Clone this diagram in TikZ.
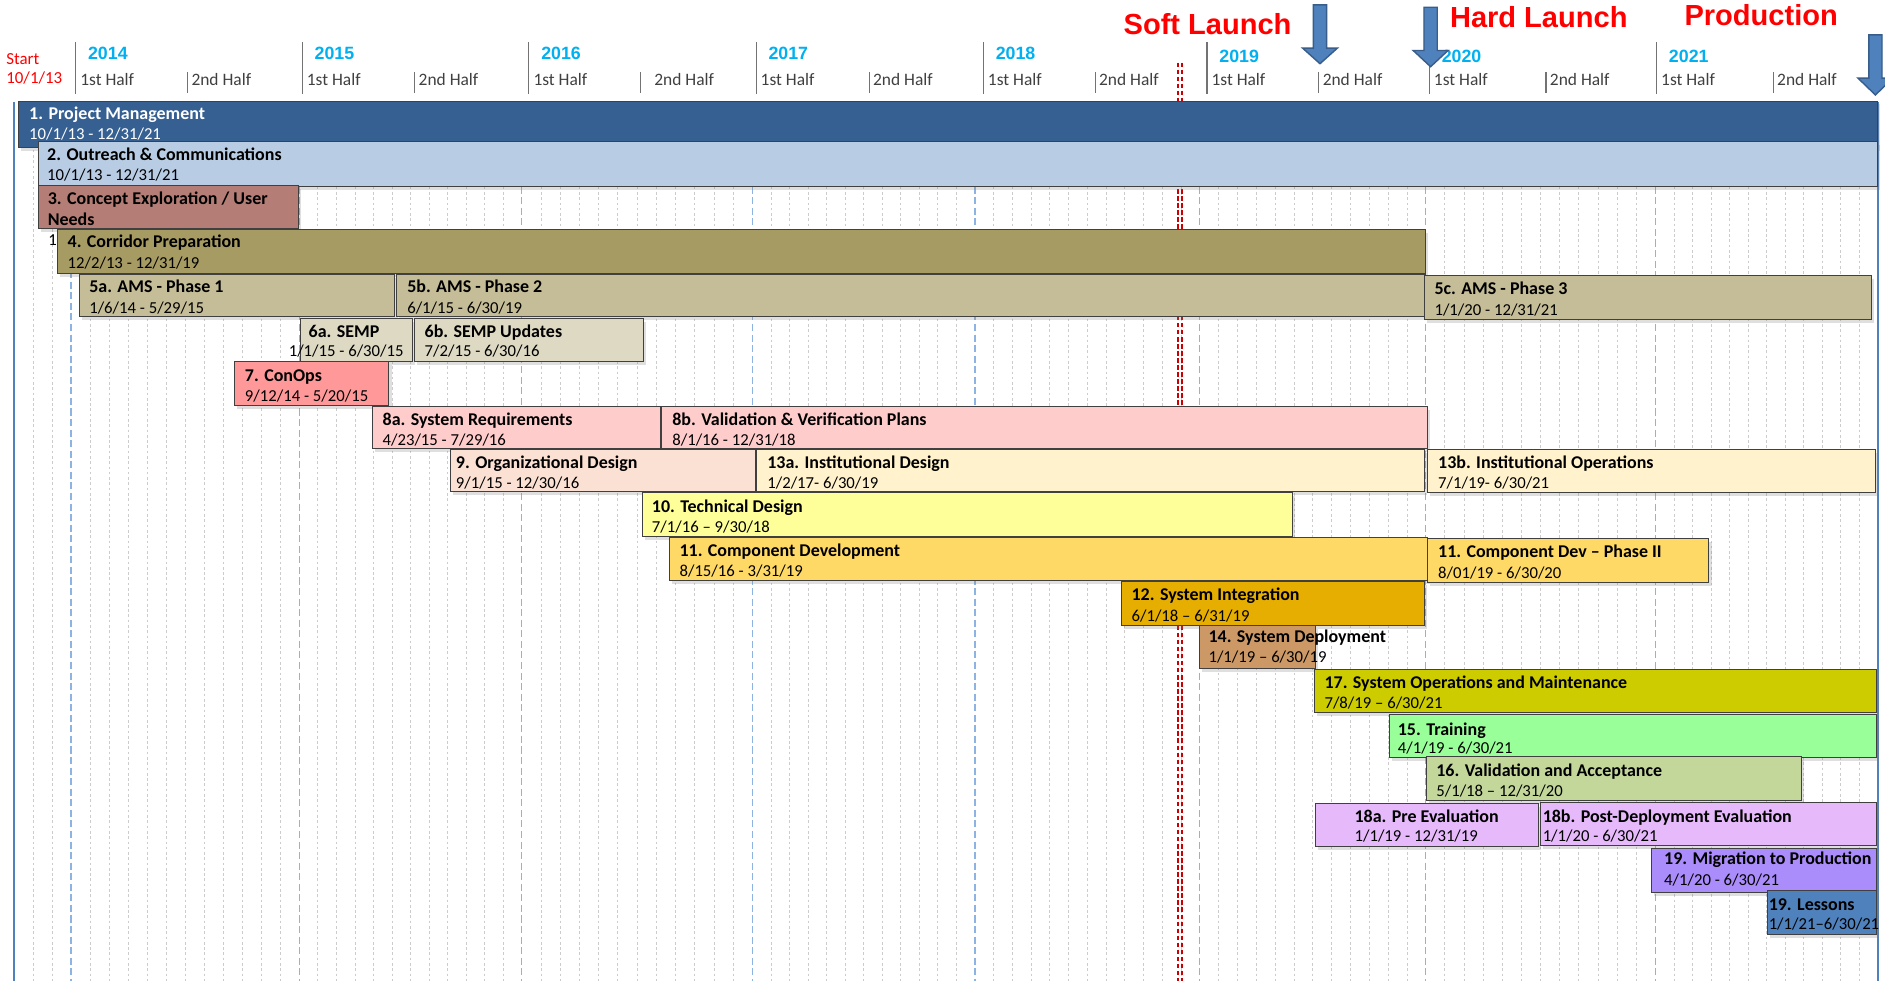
\documentclass[tikz,border=0pt]{standalone}
\usepackage{fontspec}
\setmainfont{Carlito}
\newfontfamily\arialfont{Liberation Sans}
\usepackage{xcolor}
\usetikzlibrary{shadows}
\definecolor{cpm}{RGB}{54,96,146}
\definecolor{cout}{RGB}{184,204,228}
\definecolor{cconc}{RGB}{180,125,117}
\definecolor{ccorr}{RGB}{166,155,99}
\definecolor{cams}{RGB}{196,189,151}
\definecolor{csemp}{RGB}{221,217,195}
\definecolor{ccon}{RGB}{255,153,153}
\definecolor{creq}{RGB}{255,204,204}
\definecolor{corg}{RGB}{251,225,212}
\definecolor{cinst}{RGB}{255,242,204}
\definecolor{ctech}{RGB}{255,255,153}
\definecolor{ccomp}{RGB}{255,217,102}
\definecolor{cint}{RGB}{230,174,0}
\definecolor{cdep}{RGB}{204,153,102}
\definecolor{cops}{RGB}{204,204,0}
\definecolor{ctrain}{RGB}{153,255,153}
\definecolor{cval}{RGB}{196,215,155}
\definecolor{ceval}{RGB}{230,185,250}
\definecolor{cmig}{RGB}{170,140,250}
\definecolor{cless}{RGB}{79,129,189}
\definecolor{cyear}{RGB}{0,176,240}
\definecolor{cgrid}{RGB}{141,179,226}
\definecolor{cedge}{RGB}{79,129,189}
\definecolor{carrow}{RGB}{79,129,189}
\definecolor{carrowline}{RGB}{56,93,138}

\begin{document}
\begin{tikzpicture}[x=0.024cm, y=-0.024cm,
    taskbar/.style={draw=black!75, line width=0.5pt,
      drop shadow={shadow xshift=1.5pt, shadow yshift=-2pt, opacity=0.25}},
    ttl/.style={anchor=west, inner sep=0pt, text height=6.5pt, text depth=0pt,
      font=\fontsize{10.2}{12}\selectfont\bfseries},
    dte/.style={anchor=west, inner sep=0pt, text height=6pt, text depth=0pt,
      font=\fontsize{9.5}{11}\selectfont},
    yearlbl/.style={anchor=west, inner sep=0pt, text=cyear,
      font=\arialfont\fontsize{10.1}{12}\selectfont\bfseries},
    halflbl/.style={anchor=west, inner sep=0pt, text=black!75, text height=6.4pt,
      text depth=0pt, font=\fontsize{9.9}{12}\selectfont},
    startlbl/.style={anchor=west, inner sep=0pt, text=red, text height=6.2pt,
      text depth=0pt, font=\fontsize{9.6}{11}\selectfont},
    milestone/.style={inner sep=0pt, text=red,
      font=\arialfont\fontsize{16.5}{18}\selectfont\bfseries},
    headtick/.style={draw=black!55, line width=0.6pt},
    monthline/.style={draw=black!20, line width=0.5pt, dash pattern=on 1.5pt off 1.5pt},
    yearline/.style={draw=cgrid, line width=0.7pt, dash pattern=on 4pt off 2pt},
    edgeline/.style={draw=cedge, line width=0.9pt},
    launchline/.style={draw=red!80!black, line width=0.8pt, dash pattern=on 2.5pt off 1.5pt},
    blockarrow/.style={fill=carrow, draw=carrowline, line width=0.8pt}]

    \useasboundingbox (0,0) rectangle (1568,816);
    \fill[white] (0,0) rectangle (1568,816);

    % --- grid ---
    \foreach \x in {28,44}
      \draw[monthline] (\x,85) -- (\x,816);
    \foreach \a/\b in {59/249, 249/434, 434/626, 626/811, 811/998, 998/1186, 1186/1377, 1377/1562}
      \foreach \k in {1,...,11}
        \draw[monthline] ({\a+\k*(\b-\a)/12},85) -- ({\a+\k*(\b-\a)/12},816);
    \foreach \x in {59,249,434,626,811,998,1186,1377}
      \draw[yearline] (\x,85) -- (\x,816);
    \draw[edgeline] (11.5,85) -- (11.5,816);
    \draw[edgeline] (1562,85) -- (1562,816);
    \draw[launchline] (979.8,52) -- (979.8,816);
    \draw[launchline] (983.2,52) -- (983.2,816);

    % --- header ---
    \node[startlbl] (start) at (5,49) {Start};
    \node[startlbl] (start0) at (5,65) {10/1/13};
    \foreach \x/\yr/\yy in {63/2014/44, 251.5/2015/44, 440/2016/44, 629/2017/44,
                           818/2018/44, 1004/2019/46.5, 1189/2020/46.5, 1378/2021/47}{
      \draw[headtick] (\x,35) -- (\x,78);
      \node[yearlbl] (y\yr) at (\x+10,\yy) {\yr};
      \node[halflbl] (a\yr) at (\x+3.5,66.5) {1st Half};
    }
    \foreach \x/\yr/\tx in {156/2014/159, 345/2015/348, 533/2016/544, 723/2017/726,
                           911/2018/914, 1097/2019/1100, 1286/2020/1289, 1475/2021/1478}{
      \draw[headtick] (\x,60) -- (\x,77);
      \node[halflbl] (b\yr) at (\tx,66.5) {2nd Half};
    }
    \node[milestone] (soft) at (1004.5,20) {Soft Launch};
    \node[milestone] (hard) at (1280,14) {Hard Launch};
    \node[milestone] (prod) at (1465,12.5) {Production};
    \foreach \x/\t/\h/\p in {1098/4/40/53, 1190/6/42/55.5, 1560/29/65/79}
      \draw[blockarrow] (\x-5.5,\t) -- (\x+5.5,\t) -- (\x+5.5,\h) -- (\x+14.5,\h)
        -- (\x,\p) -- (\x-14.5,\h) -- (\x-5.5,\h) -- cycle;

    % --- tasks ---
    \draw[taskbar, fill=cpm] (15,84) rectangle (1562,123);
    \node[ttl, white] (t1) at (24,95) {1. Project Management};
    \node[dte, white] (d1) at (24,112) {10/1/13 - 12/31/21};

    \draw[taskbar, fill=cout] (32,118) rectangle (1562,155);
    \node[ttl] (t2) at (39,129) {2. Outreach \& Communications};
    \node[dte] (d2) at (39,145.5) {10/1/13 - 12/31/21};

    \draw[taskbar, fill=cconc] (32,154) rectangle (248,190);
    \node[ttl] (t3) at (39.5,165.5) {3. Concept Exploration / User};
    \node[ttl] (t3b) at (39.5,182.5) {Needs};
    \node[dte] (d3) at (40,199.5) {1};

    \draw[taskbar, fill=ccorr] (48,190.5) rectangle (1186,227.5);
    \node[ttl] (t4) at (56,201.5) {4. Corridor Preparation};
    \node[dte] (d4) at (56,219) {12/2/13 - 12/31/19};

    \draw[taskbar, fill=cams] (66,228) rectangle (328.5,263.5);
    \node[ttl] (t5a) at (74,238.5) {5a. AMS - Phase 1};
    \node[dte] (d5a) at (74,256.5) {1/6/14 - 5/29/15};
    \draw[taskbar, fill=cams] (329.5,228) rectangle (1186,263.5);
    \node[ttl] (t5b) at (338.5,238.5) {5b. AMS - Phase 2};
    \node[dte] (d5b) at (338.5,256.5) {6/1/15 - 6/30/19};
    \draw[taskbar, fill=cams] (1185,229.5) rectangle (1557,265.5);
    \node[ttl] (t5c) at (1193,240) {5c. AMS - Phase 3};
    \node[dte] (d5c) at (1193,258) {1/1/20 - 12/31/21};

    \draw[taskbar, fill=csemp] (250,265) rectangle (343,300.5);
    \node[ttl] (t6a) at (256.5,276) {6a. SEMP};
    \node[dte, anchor=east] (d6a) at (336,292.5) {1/1/15 - 6/30/15};
    \draw[taskbar, fill=csemp] (345,265) rectangle (535,300.5);
    \node[ttl] (t6b) at (353,276) {6b. SEMP Updates};
    \node[dte] (d6b) at (353,292.5) {7/2/15 - 6/30/16};

    \draw[taskbar, fill=ccon] (195,301) rectangle (323.5,337.5);
    \node[ttl] (t7) at (203.5,312.5) {7. ConOps};
    \node[dte] (d7) at (203.5,329.5) {9/12/14 - 5/20/15};

    \draw[taskbar, fill=creq] (310,338) rectangle (549.5,373);
    \node[ttl] (t8a) at (318,349) {8a. System Requirements};
    \node[dte] (d8a) at (318,366) {4/23/15 - 7/29/16};
    \draw[taskbar, fill=creq] (550.5,338) rectangle (1187,373);
    \node[ttl] (t8b) at (559,349) {8b. Validation \& Verification Plans};
    \node[dte] (d8b) at (559,366) {8/1/16 - 12/31/18};

    \draw[taskbar, fill=corg] (375,373.5) rectangle (628,409);
    \node[ttl] (t9) at (379,385) {9. Organizational Design};
    \node[dte] (d9) at (379,402) {9/1/15 - 12/30/16};
    \draw[taskbar, fill=cinst] (629.5,373.5) rectangle (1185,409);
    \node[ttl] (t13a) at (638,385) {13a. Institutional Design};
    \node[dte] (d13a) at (638,402) {1/2/17- 6/30/19};
    \draw[taskbar, fill=cinst] (1187.5,374) rectangle (1560,409.5);
    \node[ttl] (t13b) at (1196,385) {13b. Institutional Operations};
    \node[dte] (d13b) at (1196,402) {7/1/19- 6/30/21};

    \draw[taskbar, fill=ctech] (534,410) rectangle (1075,446.5);
    \node[ttl] (t10) at (542,421.5) {10. Technical Design};
    \node[dte] (d10) at (542,438.5) {7/1/16 -- 9/30/18};

    \draw[taskbar, fill=ccomp] (556.5,447) rectangle (1187,483);
    \node[ttl] (t11) at (565,458) {11. Component Development};
    \node[dte] (d11) at (565,475.5) {8/15/16 - 3/31/19};
    \draw[taskbar, fill=ccomp] (1187.5,448) rectangle (1421.5,484.5);
    \node[ttl] (t11b) at (1196,459) {11. Component Dev -- Phase II};
    \node[dte] (d11b) at (1196,476.5) {8/01/19 - 6/30/20};

    \draw[taskbar, fill=cint] (932.5,484) rectangle (1184.5,520);
    \node[ttl] (t12) at (941,495) {12. System Integration};
    \node[dte] (d12) at (941,512.5) {6/1/18 -- 6/31/19};

    \draw[taskbar, fill=cdep] (998,520.5) rectangle (1094.5,556);
    \node[ttl] (t14) at (1005,530) {14. System Deployment};
    \node[dte] (d14) at (1005,547) {1/1/19 -- 6/30/19};

    \draw[taskbar, fill=cops] (1093,557) rectangle (1561,593);
    \node[ttl] (t17) at (1101.5,568) {17. System Operations and Maintenance};
    \node[dte] (d17) at (1101.5,585) {7/8/19 -- 6/30/21};

    \draw[taskbar, fill=ctrain] (1155.5,594.5) rectangle (1561,630);
    \node[ttl] (t15) at (1162.5,607) {15. Training};
    \node[dte] (d15) at (1162.5,622.5) {4/1/19 - 6/30/21};

    \draw[taskbar, fill=cval] (1186.5,629) rectangle (1498.5,665.5);
    \node[ttl] (t16) at (1194.5,641) {16. Validation and Acceptance};
    \node[dte] (d16) at (1194.5,658) {5/1/18 -- 12/31/20};

    \draw[taskbar, fill=ceval] (1094.5,668) rectangle (1279.5,704);
    \node[ttl] (t18a) at (1126.5,679) {18a. Pre Evaluation};
    \node[dte] (d18a) at (1126.5,695.5) {1/1/19 - 12/31/19};
    \draw[taskbar, fill=ceval] (1281,667.5) rectangle (1561,703.5);
    \node[ttl] (t18b) at (1283,679) {18b. Post-Deployment Evaluation};
    \node[dte] (d18b) at (1283,695.5) {1/1/20 - 6/30/21};

    \draw[taskbar, fill=cmig] (1373.5,706) rectangle (1561,742);
    \node[ttl] (t19) at (1384,714) {19. Migration to Production};
    \node[dte] (d19) at (1384,732) {4/1/20 - 6/30/21};

    \draw[taskbar, fill=cless] (1470,741) rectangle (1561,777);
    \node[ttl] (t19b) at (1471,752.5) {19. Lessons};
    \node[dte] (d19b) at (1471,769) {1/1/21--6/30/21};
\end{tikzpicture}
\end{document}
